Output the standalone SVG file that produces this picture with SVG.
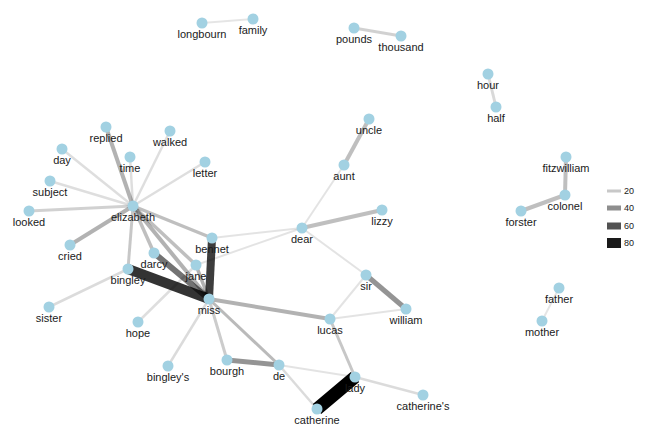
<svg xmlns="http://www.w3.org/2000/svg" width="648" height="432" viewBox="0 0 648 432">
<style>
.e{stroke:#000;stroke-linecap:butt;fill:none}
.n circle{fill:#a2d1e2}
.n text,.lg text{font-family:"Liberation Sans",Arial,sans-serif;fill:#1a1a1a;text-anchor:middle}
.n text{font-size:11px}
.lg text{font-size:9px;text-anchor:start}
</style>
<rect width="648" height="432" fill="#fff"/>
<g id="connectors">
<line class="e" x1="106" y1="127" x2="133" y2="206" stroke-opacity="0.3" stroke-width="4"/>
<line class="e" x1="70" y1="245" x2="133" y2="206" stroke-opacity="0.3" stroke-width="4"/>
<line class="e" x1="29" y1="211" x2="133" y2="206" stroke-opacity="0.18" stroke-width="3"/>
<line class="e" x1="50" y1="181" x2="133" y2="206" stroke-opacity="0.13" stroke-width="2.5"/>
<line class="e" x1="62" y1="149" x2="133" y2="206" stroke-opacity="0.13" stroke-width="2.5"/>
<line class="e" x1="130" y1="157" x2="133" y2="206" stroke-opacity="0.13" stroke-width="2.5"/>
<line class="e" x1="170" y1="131" x2="133" y2="206" stroke-opacity="0.13" stroke-width="2.5"/>
<line class="e" x1="205" y1="162" x2="133" y2="206" stroke-opacity="0.13" stroke-width="2.5"/>
<line class="e" x1="133" y1="206" x2="128" y2="269" stroke-opacity="0.22" stroke-width="3"/>
<line class="e" x1="133" y1="206" x2="154" y2="253" stroke-opacity="0.25" stroke-width="3.5"/>
<line class="e" x1="133" y1="206" x2="196" y2="265" stroke-opacity="0.25" stroke-width="3.5"/>
<line class="e" x1="133" y1="206" x2="209" y2="299" stroke-opacity="0.3" stroke-width="4"/>
<line class="e" x1="133" y1="206" x2="212" y2="238" stroke-opacity="0.25" stroke-width="3.5"/>
<line class="e" x1="49" y1="307" x2="128" y2="269" stroke-opacity="0.14" stroke-width="2.5"/>
<line class="e" x1="128" y1="269" x2="209" y2="299" stroke-opacity="0.8" stroke-width="10"/>
<line class="e" x1="212" y1="238" x2="209" y2="299" stroke-opacity="0.76" stroke-width="8"/>
<line class="e" x1="154" y1="253" x2="209" y2="299" stroke-opacity="0.55" stroke-width="6"/>
<line class="e" x1="196" y1="265" x2="209" y2="299" stroke-opacity="0.3" stroke-width="3.5"/>
<line class="e" x1="209" y1="299" x2="330" y2="319" stroke-opacity="0.3" stroke-width="4"/>
<line class="e" x1="209" y1="299" x2="227" y2="360" stroke-opacity="0.2" stroke-width="3"/>
<line class="e" x1="209" y1="299" x2="279" y2="365" stroke-opacity="0.27" stroke-width="3"/>
<line class="e" x1="209" y1="299" x2="168" y2="366" stroke-opacity="0.14" stroke-width="2.5"/>
<line class="e" x1="196" y1="265" x2="138" y2="322" stroke-opacity="0.13" stroke-width="2.5"/>
<line class="e" x1="227" y1="360" x2="279" y2="365" stroke-opacity="0.42" stroke-width="5"/>
<line class="e" x1="279" y1="365" x2="317" y2="409" stroke-opacity="0.14" stroke-width="2.5"/>
<line class="e" x1="279" y1="365" x2="355" y2="377" stroke-opacity="0.11" stroke-width="2"/>
<line class="e" x1="355" y1="377" x2="317" y2="409" stroke-opacity="1" stroke-width="13"/>
<line class="e" x1="355" y1="377" x2="423" y2="395" stroke-opacity="0.14" stroke-width="2.5"/>
<line class="e" x1="330" y1="319" x2="355" y2="377" stroke-opacity="0.22" stroke-width="3"/>
<line class="e" x1="330" y1="319" x2="366" y2="275" stroke-opacity="0.11" stroke-width="2"/>
<line class="e" x1="330" y1="319" x2="406" y2="309" stroke-opacity="0.11" stroke-width="2"/>
<line class="e" x1="366" y1="275" x2="406" y2="309" stroke-opacity="0.42" stroke-width="5"/>
<line class="e" x1="302" y1="228" x2="366" y2="275" stroke-opacity="0.11" stroke-width="2"/>
<line class="e" x1="302" y1="228" x2="382" y2="210" stroke-opacity="0.25" stroke-width="4"/>
<line class="e" x1="302" y1="228" x2="344" y2="165" stroke-opacity="0.11" stroke-width="2"/>
<line class="e" x1="344" y1="165" x2="369" y2="119" stroke-opacity="0.25" stroke-width="4"/>
<line class="e" x1="302" y1="228" x2="212" y2="238" stroke-opacity="0.11" stroke-width="2"/>
<line class="e" x1="302" y1="228" x2="196" y2="265" stroke-opacity="0.11" stroke-width="2"/>
<line class="e" x1="566" y1="157" x2="565" y2="195" stroke-opacity="0.25" stroke-width="4"/>
<line class="e" x1="565" y1="195" x2="521" y2="211" stroke-opacity="0.25" stroke-width="4"/>
<line class="e" x1="559" y1="288" x2="542" y2="321" stroke-opacity="0.1" stroke-width="2"/>
<line class="e" x1="488" y1="74" x2="496" y2="107" stroke-opacity="0.15" stroke-width="3"/>
<line class="e" x1="354" y1="28" x2="401" y2="36" stroke-opacity="0.18" stroke-width="3"/>
<line class="e" x1="202" y1="23" x2="253" y2="19" stroke-opacity="0.1" stroke-width="2"/>
</g>
<g id="node-longbourn" class="n"><circle cx="202" cy="23" r="5.5"/><text x="202" y="38">longbourn</text></g>
<g id="node-family" class="n"><circle cx="253" cy="19" r="5.5"/><text x="253" y="34">family</text></g>
<g id="node-pounds" class="n"><circle cx="354" cy="28" r="5.5"/><text x="354" y="43">pounds</text></g>
<g id="node-thousand" class="n"><circle cx="401" cy="36" r="5.5"/><text x="401" y="51">thousand</text></g>
<g id="node-hour" class="n"><circle cx="488" cy="74" r="5.5"/><text x="488" y="89">hour</text></g>
<g id="node-half" class="n"><circle cx="496" cy="107" r="5.5"/><text x="496" y="122">half</text></g>
<g id="node-uncle" class="n"><circle cx="369" cy="119" r="5.5"/><text x="369" y="134">uncle</text></g>
<g id="node-replied" class="n"><circle cx="106" cy="127" r="5.5"/><text x="106" y="142">replied</text></g>
<g id="node-walked" class="n"><circle cx="170" cy="131" r="5.5"/><text x="170" y="146">walked</text></g>
<g id="node-day" class="n"><circle cx="62" cy="149" r="5.5"/><text x="62" y="164">day</text></g>
<g id="node-time" class="n"><circle cx="130" cy="157" r="5.5"/><text x="130" y="172">time</text></g>
<g id="node-letter" class="n"><circle cx="205" cy="162" r="5.5"/><text x="205" y="177">letter</text></g>
<g id="node-fitzwilliam" class="n"><circle cx="566" cy="157" r="5.5"/><text x="566" y="172">fitzwilliam</text></g>
<g id="node-aunt" class="n"><circle cx="344" cy="165" r="5.5"/><text x="344" y="180">aunt</text></g>
<g id="node-subject" class="n"><circle cx="50" cy="181" r="5.5"/><text x="50" y="196">subject</text></g>
<g id="node-colonel" class="n"><circle cx="565" cy="195" r="5.5"/><text x="565" y="210">colonel</text></g>
<g id="node-elizabeth" class="n"><circle cx="133" cy="206" r="5.5"/><text x="133" y="221">elizabeth</text></g>
<g id="node-lizzy" class="n"><circle cx="382" cy="210" r="5.5"/><text x="382" y="225">lizzy</text></g>
<g id="node-forster" class="n"><circle cx="521" cy="211" r="5.5"/><text x="521" y="226">forster</text></g>
<g id="node-looked" class="n"><circle cx="29" cy="211" r="5.5"/><text x="29" y="226">looked</text></g>
<g id="node-dear" class="n"><circle cx="302" cy="228" r="5.5"/><text x="302" y="243">dear</text></g>
<g id="node-bennet" class="n"><circle cx="212" cy="238" r="5.5"/><text x="212" y="253">bennet</text></g>
<g id="node-cried" class="n"><circle cx="70" cy="245" r="5.5"/><text x="70" y="260">cried</text></g>
<g id="node-darcy" class="n"><circle cx="154" cy="253" r="5.5"/><text x="154" y="268">darcy</text></g>
<g id="node-jane" class="n"><circle cx="196" cy="265" r="5.5"/><text x="196" y="280">jane</text></g>
<g id="node-bingley" class="n"><circle cx="128" cy="269" r="5.5"/><text x="128" y="284">bingley</text></g>
<g id="node-sir" class="n"><circle cx="366" cy="275" r="5.5"/><text x="366" y="290">sir</text></g>
<g id="node-father" class="n"><circle cx="559" cy="288" r="5.5"/><text x="559" y="303">father</text></g>
<g id="node-miss" class="n"><circle cx="209" cy="299" r="5.5"/><text x="209" y="314">miss</text></g>
<g id="node-sister" class="n"><circle cx="49" cy="307" r="5.5"/><text x="49" y="322">sister</text></g>
<g id="node-william" class="n"><circle cx="406" cy="309" r="5.5"/><text x="406" y="324">william</text></g>
<g id="node-lucas" class="n"><circle cx="330" cy="319" r="5.5"/><text x="330" y="334">lucas</text></g>
<g id="node-mother" class="n"><circle cx="542" cy="321" r="5.5"/><text x="542" y="336">mother</text></g>
<g id="node-hope" class="n"><circle cx="138" cy="322" r="5.5"/><text x="138" y="337">hope</text></g>
<g id="node-bourgh" class="n"><circle cx="227" cy="360" r="5.5"/><text x="227" y="375">bourgh</text></g>
<g id="node-de" class="n"><circle cx="279" cy="365" r="5.5"/><text x="279" y="380">de</text></g>
<g id="node-bingleys" class="n"><circle cx="168" cy="366" r="5.5"/><text x="168" y="381">bingley's</text></g>
<g id="node-lady" class="n"><circle cx="355" cy="377" r="5.5"/><text x="355" y="392">lady</text></g>
<g id="node-catherines" class="n"><circle cx="423" cy="395" r="5.5"/><text x="423" y="410">catherine's</text></g>
<g id="node-catherine" class="n"><circle cx="317" cy="409" r="5.5"/><text x="317" y="424">catherine</text></g>
<g id="legend" class="lg">
<rect x="607" y="189.5" width="14" height="3" fill="#c8c8c8"/>
<rect x="607" y="205.5" width="14" height="5" fill="#8e8e8e"/>
<rect x="607" y="222.5" width="14" height="7" fill="#525252"/>
<rect x="607" y="238" width="14" height="10" fill="#1a1a1a"/>
<text x="624" y="194">20</text>
<text x="624" y="211">40</text>
<text x="624" y="229">60</text>
<text x="624" y="246">80</text>
</g>
</svg>
